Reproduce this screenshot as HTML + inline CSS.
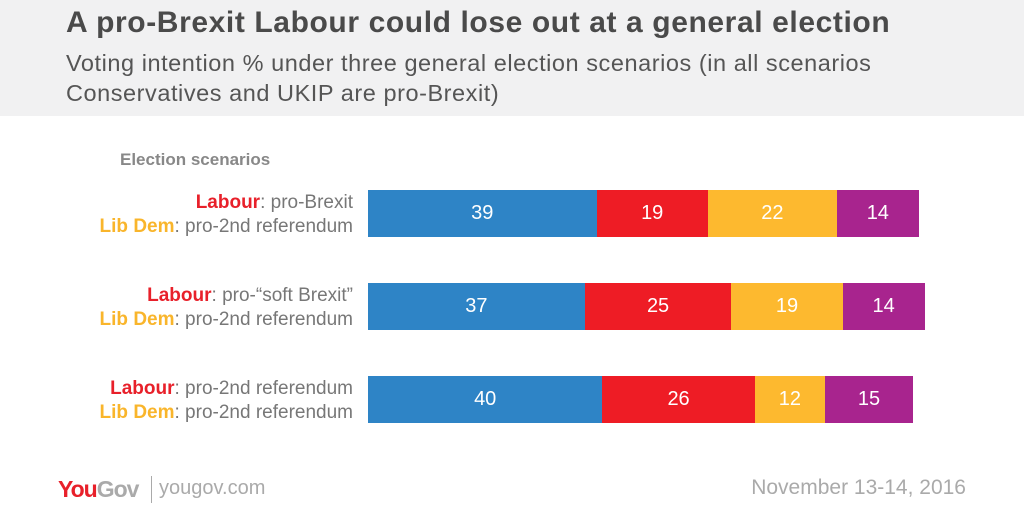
<!DOCTYPE html>
<html><head><meta charset="utf-8"><style>
body{margin:0;width:1024px;height:512px;background:#fff;font-family:"Liberation Sans",sans-serif;position:relative;overflow:hidden}
#hdr{position:absolute;left:0;top:0;width:1024px;height:116px;background:#f1f1f2}
.t{position:absolute;white-space:nowrap}
.lab{position:absolute;right:671px;text-align:right;font-size:19px;color:#777;line-height:24px;white-space:nowrap}
.r{color:#e8202a;font-weight:bold}.y{color:#f9b52b;font-weight:bold}
.seg{position:absolute;height:47px;color:#fff;font-size:20px;display:flex;align-items:center;justify-content:center}
</style></head><body>
<div id="hdr"></div>
<div class="t" style="left:66px;top:6px;font-size:30px;font-weight:bold;color:#4a4a4a;letter-spacing:0.6px">A pro-Brexit Labour could lose out at a general election</div>
<div class="t" style="left:66px;top:48px;font-size:23.5px;line-height:30px;color:#555;letter-spacing:0.55px">Voting intention % under three general election scenarios (in all scenarios<br>Conservatives and UKIP are pro-Brexit)</div>
<div class="t" style="left:120px;top:150px;font-size:17px;font-weight:bold;color:#888">Election scenarios</div>
<div class="lab" style="top:191px"><span class="r">Labour</span>: pro-Brexit<br><span class="y">Lib Dem</span>: pro-2nd referendum</div>
<div class="lab" style="top:284px"><span class="r">Labour</span>: pro-“soft Brexit”<br><span class="y">Lib Dem</span>: pro-2nd referendum</div>
<div class="lab" style="top:377px"><span class="r">Labour</span>: pro-2nd referendum<br><span class="y">Lib Dem</span>: pro-2nd referendum</div>
<div id="bars"></div>
<div class="t" style="left:58px;top:476px;font-size:23px;font-weight:bold;letter-spacing:-1px"><span style="color:#e8202a">You</span><span style="color:#aaa">Gov</span></div>
<div class="t" style="left:151px;top:476px;width:1px;height:27px;background:#aaa"></div>
<div class="t" style="left:159px;top:477px;font-size:20px;color:#aaa">yougov.com</div>
<div class="t" style="right:58px;top:476px;font-size:21px;color:#aaa">November 13-14, 2016</div>
<script>
const scenarios=["pro-Brexit","soft-Brexit","pro-2nd-ref"];
const con=[39,37,40];
const lab=[19,25,26];
const ld=[22,19,12];
const ukip=[14,14,15];
const series=[con,lab,ld,ukip];
const names=["con","lab","libdem","ukip"];
const colors=["#2e84c6","#ee1c25","#fdb92f","#a8248e"];
const x0=368,scale=5.86,rowY=[190,283,376];
const host=document.getElementById('bars');
scenarios.forEach((s,i)=>{let x=x0;
series.forEach((arr,j)=>{const w=arr[i]*scale;const d=document.createElement('div');
d.className='seg';


d.style.left=x+'px';d.style.top=rowY[i]+'px';d.style.width=w+'px';d.style.background=colors[j];d.textContent=arr[i];host.appendChild(d);x+=w;});});
</script>
</body></html>
